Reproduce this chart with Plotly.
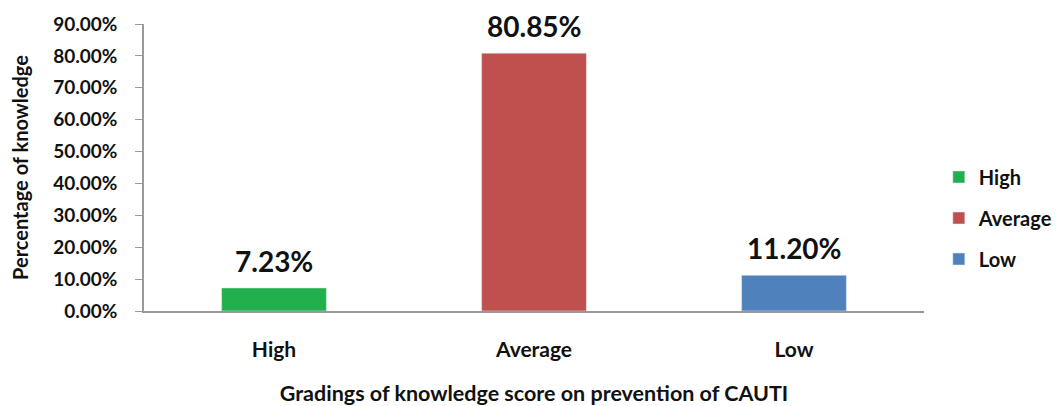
import plotly.graph_objects as go

categories = ["High", "Average", "Low"]
values = [0.0723, 0.8085, 0.1120]
labels = ["7.23%", "80.85%", "11.20%"]
colors = ["#21b04b", "#c0504d", "#4f81bd"]

FONT = "Lato"
fig = go.Figure()
for c, v, col in zip(categories, values, colors):
    fig.add_trace(go.Bar(x=[c], y=[v], name="<b>%s</b>" % c, marker_color=col, width=0.403,
                         legendgroup=c, showlegend=True, hoverinfo="skip"))

for c, v, t in zip(categories, values, labels):
    fig.add_annotation(x=c, y=v, text="<b>%s</b>" % t, showarrow=False,
                       yanchor="bottom", yshift=8,
                       font=dict(family=FONT, size=28, color="#111111"))

fig.update_layout(
    width=1051, height=398,
    margin=dict(l=135.5, r=134.5, t=16, b=95, autoexpand=False),
    paper_bgcolor="white", plot_bgcolor="white",
    barmode="overlay",
    font=dict(family=FONT, color="#111111"),
    legend=dict(x=1.019, y=0.324, xanchor="left", yanchor="middle",
                traceorder="grouped", tracegroupgap=12,
                font=dict(family=FONT, size=20, color="#111111"),
                itemwidth=30),
    xaxis=dict(showline=True, linecolor="#999999", linewidth=1.5,
               tickfont=dict(family=FONT, size=21, color="#111111"),
               ticklabelstandoff=19, ticks="", automargin=False,
               title=dict(text="<b>Gradings of knowledge score on prevention of CAUTI</b>",
                          font=dict(family=FONT, size=21.5, color="#111111"), standoff=26),
               tickvals=categories, ticktext=["<b>%s</b>" % c for c in categories]),
    yaxis=dict(range=[0, 0.9], dtick=0.1, tickformat=".2%", showgrid=False,
               showline=True, linecolor="#999999", linewidth=1.5,
               ticks="outside", tickcolor="#999999", ticklen=7,
               ticklabelstandoff=14, automargin=False,
               tickfont=dict(family=FONT, size=19, color="#111111"),
               title=dict(text="<b>Percentage of knowledge</b>",
                          font=dict(family=FONT, size=20, color="#111111"), standoff=20),
               zeroline=False),
)
fig.update_yaxes(tickprefix="<b>", ticksuffix="</b>")
fig.write_html("out.html")
